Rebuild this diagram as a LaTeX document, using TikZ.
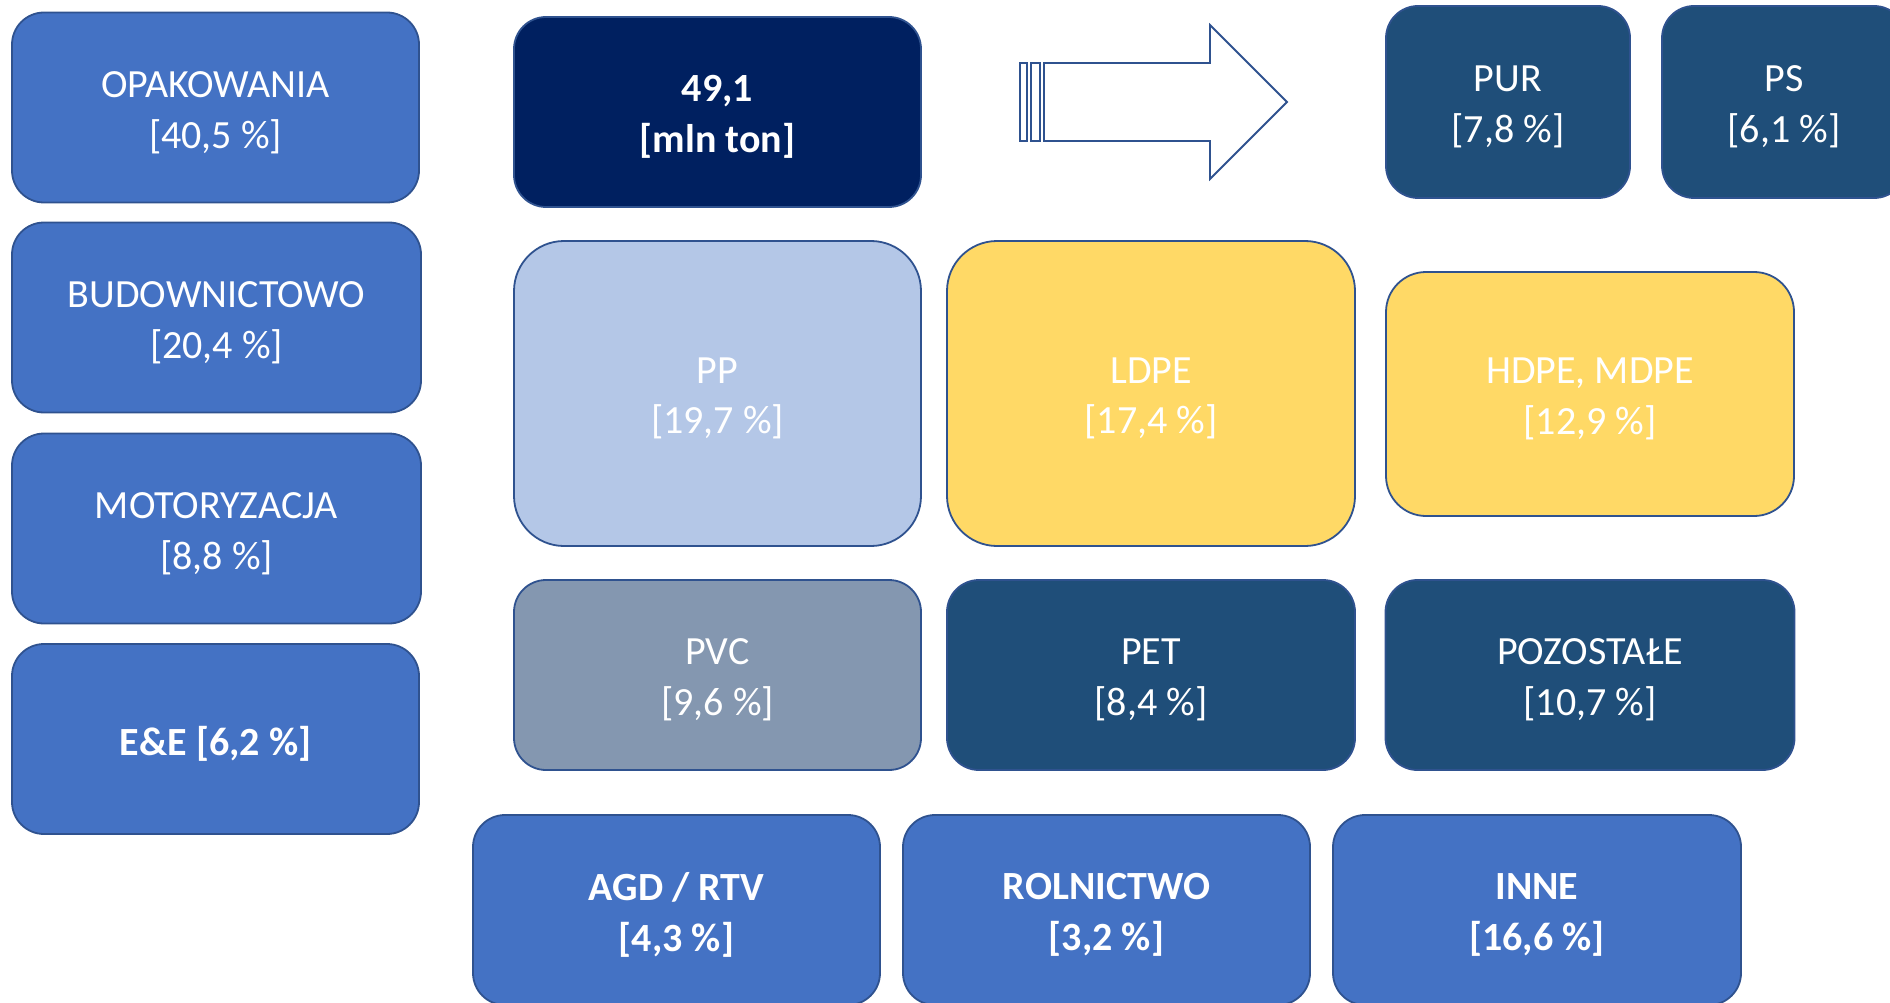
\documentclass[tikz,border=0pt]{standalone}
\usepackage{fontspec}
\setmainfont{Carlito}
\begin{document}
\definecolor{midblue}{HTML}{4472C4}
\definecolor{edge}{HTML}{2F528F}
\definecolor{navy}{HTML}{002060}
\definecolor{deepblue}{HTML}{1F4E79}
\definecolor{paleblue}{HTML}{B4C7E7}
\definecolor{gold}{HTML}{FFD966}
\definecolor{slate}{HTML}{8497B0}
\begin{tikzpicture}[x=1pt,y=-1pt,
  box/.style={draw=edge,line width=1.8pt,inner sep=0pt},
  lab/.style={text=white,align=center,inner sep=0pt,yshift=-5pt,
    font=\fontsize{40}{50.6}\selectfont},
  blab/.style={lab,font=\fontsize{40}{50.6}\selectfont\bfseries},
  txt/.style={label={[lab]center:{#1}}},
  btxt/.style={label={[blab]center:{#1}}},
  std/.style={box,minimum width=407,minimum height=190,rounded corners=32},
  sector/.style={std,fill=midblue},
  dark/.style={fill=deepblue}]
\useasboundingbox (0,0) rectangle (1890,1003);
\clip (0,0) rectangle (1890,1003);

% application sectors, left column
\node[sector,txt={OPAKOWANIA\\{}[40,5 \%]}] (opak) at (215.5,107.5) {};
\node[sector,minimum width=409,txt={BUDOWNICTOWO\\{}[20,4 \%]}] (budo) at (216.5,317.5) {};
\node[sector,minimum width=409,txt={MOTORYZACJA\\{}[8,8 \%]}] (moto) at (216.5,528.5) {};
\node[sector,btxt={E\&E [6,2 \%]}] (ee) at (215.5,739) {};

% total demand
\node[std,fill=navy,btxt={49,1\\{}[mln ton]}] (total) at (717.5,112) {};

% striped arrow
\draw[edge,line width=1.8pt,fill=white,line join=miter]
  (1044,63) -- (1210,63) -- (1210,25) -- (1287,102) -- (1210,179) -- (1210,141) -- (1044,141) -- cycle;
\draw[edge,line width=1.8pt,fill=white] (1020,63) rectangle (1027,141);
\draw[edge,line width=1.8pt,fill=white] (1031,63) rectangle (1040,141);

% polymer types
\node[box,dark,minimum width=244,minimum height=192,rounded corners=32,txt={PUR\\{}[7,8 \%]}] (pur) at (1508,102) {};
\node[box,dark,minimum width=244,minimum height=192,rounded corners=32,txt={PS\\{}[6,1 \%]}] (ps) at (1784,102) {};
\node[box,fill=paleblue,minimum width=407,minimum height=305,rounded corners=50,txt={PP\\{}[19,7 \%]}] (pp) at (717.5,393.5) {};
\node[box,fill=gold,minimum width=408,minimum height=305,rounded corners=50,txt={LDPE\\{}[17,4 \%]}] (ldpe) at (1151,393.5) {};
\node[box,fill=gold,minimum width=408,minimum height=244,rounded corners=40,txt={HDPE, MDPE\\{}[12,9 \%]}] (hdpe) at (1590,394) {};
\node[std,fill=slate,txt={PVC\\{}[9,6 \%]}] (pvc) at (717.5,675) {};
\node[std,dark,minimum width=408,txt={PET\\{}[8,4 \%]}] (pet) at (1151,675) {};
\node[std,dark,minimum width=409,txt={POZOSTAŁE\\{}[10,7 \%]}] (poz) at (1590,675) {};

% application sectors, bottom row
\node[sector,btxt={AGD / RTV\\{}[4,3 \%]}] (agd) at (676.5,910) {};
\node[sector,btxt={ROLNICTWO\\{}[3,2 \%]}] (rol) at (1106.5,910) {};
\node[sector,minimum width=408,btxt={INNE\\{}[16,6 \%]}] (inne) at (1537,910) {};
\end{tikzpicture}
\end{document}
